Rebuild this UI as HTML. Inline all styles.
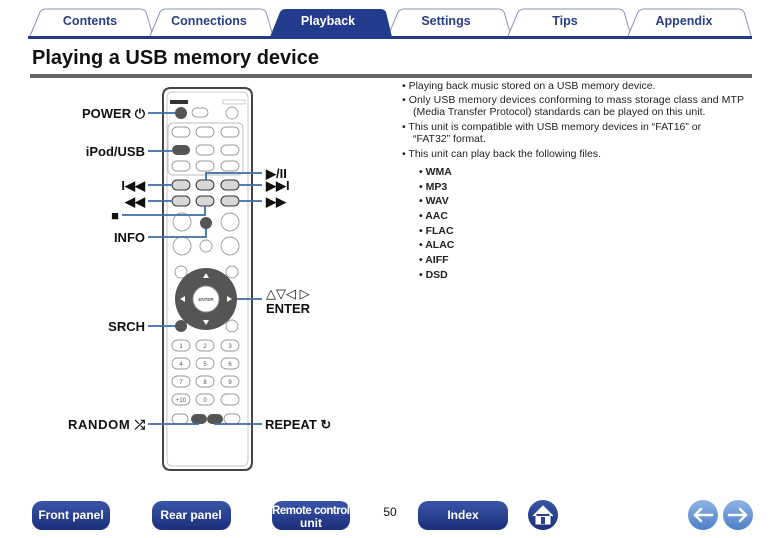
<!DOCTYPE html>
<html><head><meta charset="utf-8"><style>
body{margin:0;background:#fff;font-family:"Liberation Sans",sans-serif}
svg{display:block}
.t{font-family:"Liberation Sans",sans-serif}
</style></head><body>
<svg width="779" height="538" viewBox="0 0 779 538" xmlns="http://www.w3.org/2000/svg">
<defs>
<linearGradient id="nb" x1="0" y1="0" x2="0" y2="1"><stop offset="0" stop-color="#3a55a8"/><stop offset="1" stop-color="#1b2f7a"/></linearGradient>
<linearGradient id="lb" x1="0" y1="0" x2="0" y2="1"><stop offset="0" stop-color="#8fb3e6"/><stop offset="1" stop-color="#4e7fc8"/></linearGradient>
</defs>
<!-- tabs -->
<g fill="#fff" stroke="#8a93b5" stroke-width="1">
<path d="M30,36 L40,12 Q42,9 46,9 L140,9 Q144,9 146,12 L153,36"/>
<path d="M150,36 L160,12 Q162,9 166,9 L260,9 Q264,9 266,12 L273,36"/>
<path d="M388,36 L398,12 Q400,9 404,9 L498,9 Q502,9 504,12 L511,36"/>
<path d="M508,36 L518,12 Q520,9 524,9 L618,9 Q622,9 624,12 L631,36"/>
<path d="M628,36 L638,12 Q640,9 644,9 L738,9 Q742,9 744,12 L751,36"/>
</g>
<path d="M270,37 L280,12 Q282,9 286,9 L380,9 Q384,9 386,12 L392,37 Z" fill="#223b8c"/>
<rect x="28" y="36" width="724" height="3" fill="#223b8c"/>
<g class="t" font-weight="bold" font-size="12.5" text-anchor="middle" fill="#2a3f88">
<text x="90" y="25">Contents</text><text x="209" y="25">Connections</text>
<text x="328" y="25" fill="#fff">Playback</text><text x="446" y="25">Settings</text>
<text x="565" y="25">Tips</text><text x="684" y="25">Appendix</text>
</g>
<text class="t" x="32" y="64" font-size="20" font-weight="bold" fill="#111" textLength="287">Playing a USB memory device</text>
<rect x="30" y="74" width="722" height="4" fill="#666"/>

<!-- remote -->
<path d="M163,96 Q163,88 171,88 L244,88 Q252,88 252,96 L252,462 Q252,470 244,470 L171,470 Q163,470 163,462 Z" fill="#fff" stroke="#444" stroke-width="2"/>
<path d="M167,98 Q167,92 173,92 L242,92 Q248,92 248,98 L248,460 Q248,466 242,466 L173,466 Q167,466 167,460 Z" fill="none" stroke="#bbb" stroke-width="0.8"/>
<rect x="170" y="100" width="18" height="4" fill="#333"/>
<rect x="223" y="100" width="22" height="4" fill="none" stroke="#aaa" stroke-width="0.6"/>
<g fill="#fff" stroke="#999" stroke-width="0.9">
<rect x="192" y="108" width="16" height="9" rx="4.5"/>
<circle cx="232" cy="113" r="6"/>
<rect x="172" y="127" width="18" height="10" rx="5"/><rect x="196" y="127" width="18" height="10" rx="5"/><rect x="221" y="127" width="18" height="10" rx="5"/>
<rect x="196" y="145" width="18" height="10" rx="5"/><rect x="221" y="145" width="18" height="10" rx="5"/>
<rect x="172" y="161" width="18" height="10" rx="5"/><rect x="196" y="161" width="18" height="10" rx="5"/><rect x="221" y="161" width="18" height="10" rx="5"/>
<rect x="168" y="123" width="75" height="52" rx="5" fill="none" stroke="#bbb"/>
<circle cx="182" cy="222" r="9"/><circle cx="230" cy="222" r="9"/>
<circle cx="182" cy="246" r="9"/><circle cx="206" cy="246" r="6"/><circle cx="230" cy="246" r="9"/>
<circle cx="181" cy="272" r="6"/><circle cx="232" cy="272" r="6"/><circle cx="232" cy="326" r="6"/>
<rect x="172" y="340" width="18" height="11" rx="5.5"/><rect x="196" y="340" width="18" height="11" rx="5.5"/><rect x="221" y="340" width="18" height="11" rx="5.5"/>
<rect x="172" y="358" width="18" height="11" rx="5.5"/><rect x="196" y="358" width="18" height="11" rx="5.5"/><rect x="221" y="358" width="18" height="11" rx="5.5"/>
<rect x="172" y="376" width="18" height="11" rx="5.5"/><rect x="196" y="376" width="18" height="11" rx="5.5"/><rect x="221" y="376" width="18" height="11" rx="5.5"/>
<rect x="172" y="394" width="18" height="11" rx="5.5"/><rect x="196" y="394" width="18" height="11" rx="5.5"/><rect x="221" y="394" width="18" height="11" rx="5.5"/>
<rect x="172" y="414" width="16" height="10" rx="5"/><rect x="224" y="414" width="16" height="10" rx="5"/>
</g>
<g fill="#555" font-size="6" text-anchor="middle" class="t"><text x="181" y="348">1</text><text x="205" y="348">2</text><text x="230" y="348">3</text><text x="181" y="366">4</text><text x="205" y="366">5</text><text x="230" y="366">6</text><text x="181" y="384">7</text><text x="205" y="384">8</text><text x="230" y="384">9</text><text x="181" y="402">+10</text><text x="205" y="402">0</text></g>
<g fill="#d8d8d8" stroke="#333" stroke-width="1">
<rect x="172" y="180" width="18" height="10" rx="5"/><rect x="196" y="180" width="18" height="10" rx="5"/><rect x="221" y="180" width="18" height="10" rx="5"/>
<rect x="172" y="196" width="18" height="10" rx="5"/><rect x="196" y="196" width="18" height="10" rx="5"/><rect x="221" y="196" width="18" height="10" rx="5"/>
</g>
<g fill="#555">
<circle cx="181" cy="113" r="6"/><rect x="172" y="145" width="18" height="10" rx="5"/>
<circle cx="206" cy="223" r="6"/><circle cx="181" cy="326" r="6"/>
<rect x="191" y="414" width="16" height="10" rx="5"/><rect x="207" y="414" width="16" height="10" rx="5"/>
<circle cx="206" cy="299" r="31"/>
</g>
<circle cx="206" cy="299" r="13" fill="#fff" stroke="#999"/>
<text x="206" y="301" font-size="4.5" text-anchor="middle" class="t">ENTER</text>
<g fill="#fff"><path d="M206,273 l-3,5 h6z"/><path d="M206,325 l-3,-5 h6z"/><path d="M180,299 l5,-3 v6z"/><path d="M232,299 l-5,-3 v6z"/></g>

<!-- connectors -->
<g stroke="#3d6da8" stroke-width="1.8" fill="none">
<path d="M148,113 H175"/><path d="M148,151 H172"/>
<path d="M148,185 H172"/><path d="M148,201 H172"/>
<path d="M122,215 H205 V206"/>
<path d="M148,237 H206 V229"/>
<path d="M206,180 V173 H262"/><path d="M239,185 H262"/><path d="M239,201 H262"/>
<path d="M237,299 H262"/>
<path d="M148,326 H175"/>
<path d="M148,424 H199"/><path d="M214,424 H262"/>
</g>
<g class="t" font-weight="bold" font-size="13" fill="#111">
<text x="145" y="118" text-anchor="end">POWER ⏻</text>
<text x="145" y="156" text-anchor="end">iPod/USB</text>
<text x="145" y="190" text-anchor="end">I◀◀</text>
<text x="145" y="206" text-anchor="end">◀◀</text>
<text x="119" y="220" text-anchor="end">■</text>
<text x="145" y="242" text-anchor="end">INFO</text>
<text x="266" y="178">▶/II</text>
<text x="266" y="190">▶▶I</text>
<text x="266" y="206">▶▶</text>
<text x="266" y="298" font-weight="normal">△▽◁ ▷</text>
<text x="266" y="313">ENTER</text>
<text x="145" y="331" text-anchor="end">SRCH</text>
<text x="68" y="429" textLength="77">RANDOM ⤮</text>
<text x="265" y="429">REPEAT ↻</text>
</g>

<!-- right text -->
<g class="t" font-size="10.5" fill="#222">
<text x="402" y="89">•  Playing back music stored on a USB memory device.</text>
<text x="402" y="103" textLength="342">•  Only USB memory devices conforming to mass storage class and MTP</text>
<text x="413" y="115">(Media Transfer Protocol) standards can be played on this unit.</text>
<text x="402" y="130">•  This unit is compatible with USB memory devices in “FAT16” or</text>
<text x="413" y="142">“FAT32” format.</text>
<text x="402" y="157">•  This unit can play back the following files.</text>
</g>
<g class="t" font-size="10.5" font-weight="bold" fill="#222">
<text x="419" y="175">•  WMA</text><text x="419" y="190">•  MP3</text><text x="419" y="204">•  WAV</text><text x="419" y="219">•  AAC</text>
<text x="419" y="234">•  FLAC</text><text x="419" y="248">•  ALAC</text><text x="419" y="263">•  AIFF</text><text x="419" y="278">•  DSD</text>
</g>

<!-- bottom -->
<g fill="url(#nb)">
<rect x="32" y="501" width="78" height="29" rx="10"/>
<rect x="152" y="501" width="79" height="29" rx="10"/>
<rect x="272" y="501" width="78" height="29" rx="10"/>
<rect x="418" y="501" width="90" height="29" rx="10"/>
<circle cx="543" cy="515" r="15"/>
</g>
<path d="M533,516 L543,506 L553,516 M536,514 V524 H550 V514" fill="#fff" stroke="#fff" stroke-width="1"/>
<rect x="541" y="517" width="4" height="7" fill="#2a4294"/>
<g class="t" font-weight="bold" font-size="12" fill="#fff" text-anchor="middle">
<text x="71" y="519">Front panel</text><text x="191" y="519">Rear panel</text>
<text x="311" y="514" font-size="11.5" textLength="78">Remote control</text><text x="311" y="527">unit</text>
<text x="463" y="519">Index</text>
</g>
<text class="t" x="390" y="516" font-size="12" text-anchor="middle" fill="#111">50</text>
<circle cx="703" cy="515" r="15" fill="url(#lb)"/><circle cx="738" cy="515" r="15" fill="url(#lb)"/>
<g stroke="#fff" stroke-width="2.5" fill="none" stroke-linecap="round"><path d="M712,515 H695 M701,509 L695,515 L701,521"/><path d="M729,515 H746 M740,509 L746,515 L740,521"/></g>
</svg>
</body></html>
